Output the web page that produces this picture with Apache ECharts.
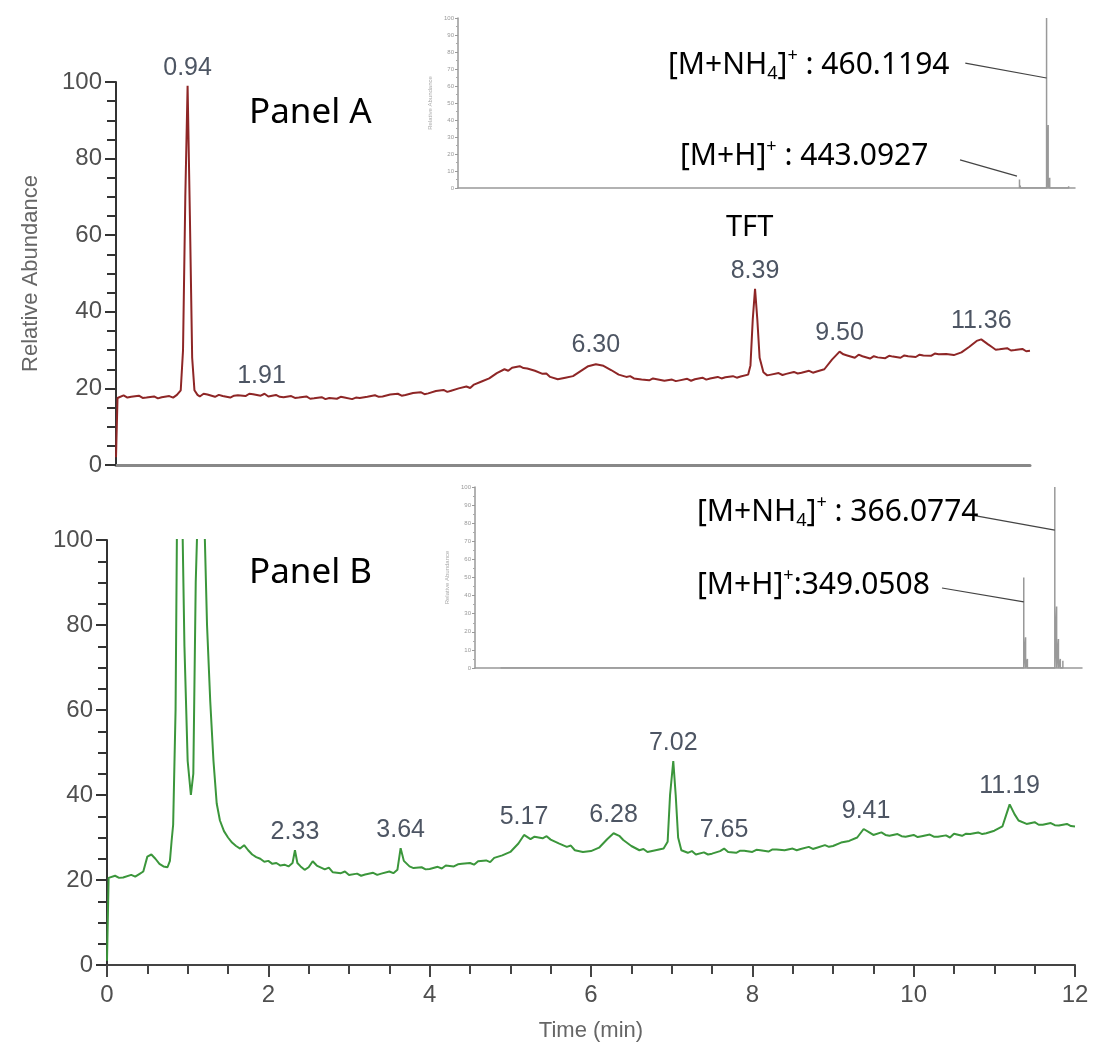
<!DOCTYPE html>
<html>
<head>
<meta charset="utf-8">
<script src="https://cdn.jsdelivr.net/npm/echarts@6/dist/echarts.min.js"></script>
<style>
html, body { margin: 0; padding: 0; background: #fff; }
#chart { width: 1097px; height: 1050px; }
</style>
</head>
<body>
<div id="chart"></div>
<script>
// Panel A chromatogram, [time (min), relative abundance]
var traceA = [
  [0, 2], [0.02, 17.5], [0.1, 18.2], [0.15, 17.6], [0.2, 17.8], [0.3, 18.1], [0.35, 17.5], [0.4, 17.6], [0.5, 17.9], [0.55, 17.4], [0.6, 17.7], [0.7, 18.0], [0.75, 17.6], [0.8, 18.3],
  [0.85, 19.5], [0.88, 30], [0.91, 70], [0.94, 99], [0.97, 65], [1.0, 28], [1.03, 19.5], [1.07, 18.3], [1.1, 17.9], [1.15, 18.6], [1.2, 18.4],
  [1.3, 17.8], [1.35, 18.3], [1.4, 18.0], [1.5, 17.6], [1.55, 18.1], [1.6, 18.2], [1.7, 18.0], [1.75, 18.6], [1.8, 18.5], [1.9, 18.1], [1.95, 18.6], [2.0, 17.9], [2.1, 18.3], [2.15, 17.8], [2.2, 17.7],
  [2.3, 18.0], [2.35, 17.5], [2.4, 17.6], [2.5, 17.9], [2.55, 17.3], [2.6, 17.4], [2.7, 17.7], [2.75, 17.2], [2.8, 17.5], [2.9, 17.3], [2.95, 17.8], [3.0, 17.6], [3.1, 17.2], [3.15, 17.6], [3.2, 17.5],
  [3.3, 17.8], [3.4, 18.2], [3.45, 17.8], [3.5, 17.9], [3.6, 18.4], [3.7, 18.6], [3.75, 18.1], [3.8, 18.3], [3.9, 18.8], [4.0, 19.0], [4.05, 18.5], [4.1, 18.7], [4.2, 19.3],
  [4.3, 19.6], [4.35, 19.1], [4.4, 19.4], [4.5, 20.0], [4.6, 20.5], [4.65, 20.1], [4.7, 21.0], [4.8, 21.8], [4.9, 22.6], [5.0, 24.0], [5.1, 25.0], [5.15, 24.6], [5.2, 25.4],
  [5.3, 25.8], [5.35, 25.3], [5.4, 25.2], [5.5, 24.6], [5.6, 23.8], [5.65, 23.9], [5.7, 23.0], [5.8, 22.4], [5.9, 22.8], [6.0, 23.2], [6.1, 24.5], [6.2, 25.8],
  [6.3, 26.3], [6.4, 25.9], [6.5, 24.8], [6.6, 23.6], [6.7, 23.0], [6.75, 23.2], [6.8, 22.6], [6.9, 22.3], [7.0, 22.1], [7.05, 22.6], [7.1, 22.4], [7.2, 22.0],
  [7.3, 22.3], [7.35, 21.9], [7.4, 22.1], [7.5, 22.5], [7.55, 22.0], [7.6, 22.4], [7.7, 22.8], [7.75, 22.3], [7.8, 22.6], [7.9, 23.0], [7.95, 22.6], [8.0, 22.9], [8.1, 23.2], [8.15, 22.8], [8.2, 23.1],
  [8.3, 23.6], [8.33, 26], [8.36, 38], [8.39, 46], [8.42, 38], [8.45, 28], [8.5, 24.2], [8.55, 23.4], [8.6, 23.6], [8.7, 24.0], [8.75, 23.5], [8.8, 23.8],
  [8.9, 24.3], [8.95, 23.9], [9.0, 24.1], [9.1, 24.6], [9.15, 24.1], [9.2, 24.4], [9.3, 25.0], [9.4, 27.5], [9.5, 29.6], [9.55, 28.9], [9.6, 28.6], [9.7, 28.0], [9.75, 28.8], [9.8, 28.4],
  [9.9, 27.8], [9.95, 28.4], [10.0, 28.1], [10.1, 27.9], [10.15, 28.5], [10.2, 28.3], [10.3, 28.0], [10.35, 28.6], [10.4, 28.4], [10.5, 28.2], [10.55, 28.8], [10.6, 28.6], [10.7, 28.5], [10.75, 29.1], [10.8, 28.9],
  [10.9, 29.0], [11.0, 28.7], [11.1, 29.4], [11.2, 30.8], [11.3, 32.4], [11.36, 32.8], [11.45, 31.5], [11.5, 30.8], [11.55, 30.1], [11.6, 30.2], [11.7, 30.5], [11.75, 29.9],
  [11.8, 30.0], [11.9, 30.3], [11.95, 29.7], [12.0, 29.8]
];
// Panel B chromatogram
var traceB = [
  [0, 1], [0.02, 20.5], [0.1, 21.0], [0.15, 20.5], [0.2, 20.6], [0.3, 21.2], [0.35, 20.8], [0.4, 21.4], [0.45, 22.0], [0.5, 25.5], [0.55, 26.0], [0.6, 25.0],
  [0.65, 23.8], [0.7, 23.2], [0.75, 23.0], [0.78, 24.5], [0.8, 29], [0.82, 33], [0.85, 60], [0.87, 110], [0.93, 110], [0.96, 75],
  [1.0, 48], [1.04, 40], [1.07, 45], [1.1, 90], [1.13, 110], [1.2, 110], [1.24, 80], [1.28, 62], [1.32, 48], [1.36, 38],
  [1.4, 34], [1.45, 31.5], [1.5, 30], [1.55, 28.8], [1.6, 28.0], [1.65, 27.4], [1.7, 28.2], [1.75, 27.0], [1.8, 26.0], [1.85, 25.4],
  [1.9, 25.0], [1.95, 24.3], [2.0, 24.5], [2.05, 23.8], [2.1, 24.0], [2.15, 23.4], [2.2, 23.6], [2.25, 23.2], [2.3, 24.0], [2.33, 27.0], [2.36, 24.0], [2.4, 23.2], [2.45, 22.4],
  [2.5, 23.0], [2.55, 24.4], [2.6, 23.4], [2.7, 22.5], [2.75, 22.9], [2.8, 21.8], [2.9, 21.6], [2.95, 22.0], [3.0, 21.2], [3.1, 21.5], [3.15, 21.0], [3.2, 21.3], [3.3, 21.7],
  [3.35, 21.2], [3.4, 21.5], [3.5, 22.0], [3.55, 21.6], [3.6, 22.4], [3.64, 27.5], [3.68, 24.5], [3.75, 23.2], [3.8, 22.8], [3.9, 23.0], [3.95, 22.5], [4.0, 22.6], [4.1, 23.1],
  [4.15, 22.7], [4.2, 23.4], [4.3, 23.2], [4.35, 23.7], [4.4, 23.8], [4.5, 24.0], [4.55, 23.6], [4.6, 24.4], [4.7, 24.6], [4.75, 24.2], [4.8, 25.2], [4.9, 25.8], [5.0, 26.6], [5.1, 28.6],
  [5.17, 30.6], [5.25, 29.6], [5.3, 30.2], [5.4, 29.8], [5.45, 30.3], [5.5, 29.5], [5.6, 28.6], [5.7, 27.8], [5.75, 28.1], [5.8, 27.0], [5.9, 26.6], [6.0, 26.8],
  [6.1, 27.6], [6.2, 29.6], [6.28, 31.0], [6.35, 30.4], [6.4, 29.4], [6.5, 28.0], [6.6, 27.0], [6.65, 27.3], [6.7, 26.6], [6.8, 27.0], [6.9, 27.4],
  [6.95, 29], [6.98, 40], [7.02, 48], [7.05, 40], [7.08, 30], [7.12, 27.0], [7.2, 26.4], [7.25, 26.8], [7.3, 26.0], [7.4, 26.5], [7.45, 26.0], [7.5, 26.2],
  [7.6, 26.8], [7.65, 27.4], [7.7, 26.6], [7.8, 26.4], [7.85, 26.9], [7.9, 26.9], [8.0, 26.6], [8.05, 27.1], [8.1, 27.0], [8.2, 26.7], [8.25, 27.2], [8.3, 27.2], [8.4, 27.0],
  [8.5, 27.4], [8.55, 27.0], [8.6, 27.3], [8.7, 27.8], [8.75, 27.3], [8.8, 27.6], [8.9, 28.2], [8.95, 27.8], [9.0, 28.0], [9.1, 28.8], [9.2, 29.2], [9.3, 30.0], [9.38, 32.0],
  [9.45, 31.2], [9.5, 30.6], [9.6, 31.2], [9.65, 30.6], [9.7, 30.4], [9.8, 30.8], [9.85, 30.3], [9.9, 30.2], [10.0, 30.6], [10.05, 30.1], [10.1, 30.3], [10.2, 30.7], [10.25, 30.2], [10.3, 30.2],
  [10.4, 30.5], [10.45, 30.0], [10.5, 30.9], [10.6, 30.4], [10.65, 30.9], [10.7, 30.8], [10.8, 31.2], [10.85, 30.8], [10.9, 31.0], [11.0, 31.6], [11.1, 32.6], [11.15, 35.5], [11.19, 37.8],
  [11.25, 35.5], [11.3, 34.0], [11.4, 33.2], [11.5, 33.6], [11.55, 33.0], [11.6, 33.0], [11.7, 33.4], [11.75, 32.9], [11.8, 32.8], [11.9, 33.2], [11.95, 32.7], [12.0, 32.6]
];
// retention-time labels [time, apex]
var peakLabelsA = [[0.94, 99], [1.91, 18.5], [6.30, 26.5], [8.39, 46], [9.50, 29.8], [11.36, 33]];
var peakLabelsB = [[2.33, 27], [3.64, 27.5], [5.17, 30.6], [6.28, 31], [7.02, 48], [7.65, 27.4], [9.41, 32], [11.19, 37.8]];

// mass spectra insets, [m/z, relative abundance]
var spectrumA = [[443.09, 5], [443.6, 1.5], [460.12, 100], [461.12, 37], [462.1, 6], [474, 1]];
var spectrumB = [[62, 1], [78, 0.8], [112, 1], [210, 0.6], [232, 0.8], [258, 0.6], [292, 0.8],
  [349.05, 50], [350.05, 17], [351.05, 5], [366.08, 100], [367.08, 34], [368.08, 16], [369.1, 5], [370.5, 4]];
// connector lines from ion labels to peaks (inset data coords)
var linksA = [[[409, 73.5], [460.12, 64.7]], [[405.7, 16.5], [441.5, 7]]];
var linksB = [[[320.6, 84.5], [366.08, 76.2]], [[304.2, 44.2], [349.05, 36.5]]];

var chart = echarts.init(document.getElementById('chart'));

function sticks(peaks) {
  var d = [];
  peaks.forEach(function (p) {
    d.push([p[0], 0], [p[0], p[1]], [p[0], 0]);
  });
  return d;
}

function labelPoints(list) {
  return list.map(function (p) {
    return { coord: [p[0], p[1]], value: p[0].toFixed(2) };
  });
}

function linkData(list) {
  return list.map(function (l) {
    return [{ coord: l[0] }, { coord: l[1] }];
  });
}

var tickFont = { color: '#4f4f4f', fontSize: 24, fontFamily: 'Liberation Sans' };

function mainY(idx, name) {
  return {
    gridIndex: idx, type: 'value', min: 0, max: 100, interval: 20,
    name: name, nameLocation: 'middle', nameGap: 74, nameRotate: 90,
    nameTextStyle: { color: '#666', fontSize: 22, fontFamily: 'Liberation Sans' },
    axisLine: { show: true, lineStyle: { color: '#333', width: 2 } },
    axisTick: { show: true, length: 11, lineStyle: { color: '#333', width: 2 } },
    minorTick: { show: true, splitNumber: 4, length: 9, lineStyle: { color: '#333', width: 2 } },
    axisLabel: Object.assign({ margin: 14 }, tickFont),
    splitLine: { show: false }
  };
}

function insetY(idx) {
  return {
    gridIndex: idx, type: 'value', min: 0, max: 100, interval: 10,
    name: 'Relative Abundance', nameLocation: 'middle', nameGap: 18,
    nameTextStyle: { color: '#aaa', fontSize: 6 },
    axisLine: { show: true, lineStyle: { color: '#999', width: 1.5 } },
    axisTick: { show: true, length: 3, lineStyle: { color: '#999' } },
    minorTick: { show: true, splitNumber: 2, length: 2, lineStyle: { color: '#aaa' } },
    axisLabel: { color: '#999', fontSize: 6, margin: 4 },
    splitLine: { show: false }
  };
}

function supText(pre, sub, post) {
  var s = '{b|' + pre + '}';
  if (sub) s += '{sub|' + sub + '}';
  s += '{b|]}{sup|+}{b|' + post + '}';
  return s;
}

var richStyle = {
  b: { fontSize: 30, lineHeight: 36, fontFamily: 'Noto Sans', fill: '#000' },
  sub: { fontSize: 18, lineHeight: 16, verticalAlign: 'bottom', fontFamily: 'Noto Sans', fill: '#000' },
  sup: { fontSize: 18, lineHeight: 16, verticalAlign: 'top', fontFamily: 'Noto Sans', fill: '#000' }
};

function textEl(x, y, rich) {
  return {
    type: 'text', left: x, top: y, z: 100,
    style: { text: rich, rich: richStyle, fill: '#000' }
  };
}

var peakLabelStyle = { show: true, position: 'top', distance: 5, color: '#4d5563', fontSize: 25,
  fontFamily: 'Liberation Sans', formatter: function (p) { return p.value; } };

var option = {
  backgroundColor: '#fff',
  animation: false,
  grid: [
    { left: 116, top: 82, width: 914, height: 383 },
    { left: 107, top: 540, width: 968, height: 425 },
    { left: 458, top: 18, width: 617, height: 170 },
    { left: 475, top: 487, width: 607, height: 181 }
  ],
  xAxis: [
    {
      gridIndex: 0, type: 'value', min: 0, max: 12,
      axisLine: { show: true, onZero: false, lineStyle: { color: '#888', width: 3 } },
      axisTick: { show: false }, axisLabel: { show: false }, splitLine: { show: false }
    },
    {
      gridIndex: 1, type: 'value', min: 0, max: 12, interval: 2,
      name: 'Time (min)', nameLocation: 'middle', nameGap: 55,
      nameTextStyle: { color: '#666', fontSize: 22, fontFamily: 'Liberation Sans' },
      axisLine: { show: true, onZero: false, lineStyle: { color: '#444', width: 2 } },
      axisTick: { show: true, length: 12, lineStyle: { color: '#444', width: 2 } },
      minorTick: { show: true, splitNumber: 4, length: 9, lineStyle: { color: '#444', width: 2 } },
      axisLabel: Object.assign({ margin: 18 }, tickFont),
      splitLine: { show: false }
    },
    {
      gridIndex: 2, type: 'value', min: 90, max: 478,
      axisLine: { show: true, onZero: false, lineStyle: { color: '#999', width: 1.5 } },
      axisTick: { show: false }, axisLabel: { show: false }, splitLine: { show: false }
    },
    {
      gridIndex: 3, type: 'value', min: 48, max: 381,
      axisLine: { show: true, onZero: false, lineStyle: { color: '#999', width: 1.5 } },
      axisTick: { show: false }, axisLabel: { show: false }, splitLine: { show: false }
    }
  ],
  yAxis: [mainY(0, 'Relative Abundance'), mainY(1, ''), insetY(2), insetY(3)],
  series: [
    {
      type: 'line', xAxisIndex: 0, yAxisIndex: 0, data: traceA, showSymbol: false,
      lineStyle: { color: '#8e2626', width: 2 }, clip: true,
      markPoint: {
        symbol: 'circle', symbolSize: 1, itemStyle: { color: 'rgba(0,0,0,0)' },
        label: peakLabelStyle, data: labelPoints(peakLabelsA)
      }
    },
    {
      type: 'line', xAxisIndex: 1, yAxisIndex: 1, data: traceB, showSymbol: false,
      lineStyle: { color: '#3b963b', width: 2 }, clip: true,
      markPoint: {
        symbol: 'circle', symbolSize: 1, itemStyle: { color: 'rgba(0,0,0,0)' },
        label: peakLabelStyle, data: labelPoints(peakLabelsB)
      }
    },
    {
      type: 'line', xAxisIndex: 2, yAxisIndex: 2, data: sticks(spectrumA), showSymbol: false,
      lineStyle: { color: '#999', width: 1.5 },
      markLine: { silent: true, symbol: 'none', label: { show: false },
        lineStyle: { color: '#444', width: 1.2, type: 'solid' }, data: linkData(linksA) }
    },
    {
      type: 'line', xAxisIndex: 3, yAxisIndex: 3, data: sticks(spectrumB), showSymbol: false,
      lineStyle: { color: '#999', width: 1.5 },
      markLine: { silent: true, symbol: 'none', label: { show: false },
        lineStyle: { color: '#444', width: 1.2, type: 'solid' }, data: linkData(linksB) }
    }
  ],
  graphic: [
    { type: 'text', left: 249, top: 96, style: { text: 'Panel A', fontSize: 35, fontFamily: 'Noto Sans', fill: '#000' } },
    { type: 'text', left: 249, top: 556, style: { text: 'Panel B', fontSize: 35, fontFamily: 'Noto Sans', fill: '#000' } },
    { type: 'text', left: 726, top: 213, style: { text: 'TFT', fontSize: 29, fontFamily: 'Noto Sans', fill: '#000' } },
    textEl(668, 47, supText('[M+NH', '4', ' : 460.1194')),
    textEl(680, 138, supText('[M+H', '', ' : 443.0927')),
    textEl(697, 494, supText('[M+NH', '4', ' : 366.0774')),
    textEl(697, 567, supText('[M+H', '', ':349.0508'))
  ]
};

chart.setOption(option);
</script>
</body>
</html>
